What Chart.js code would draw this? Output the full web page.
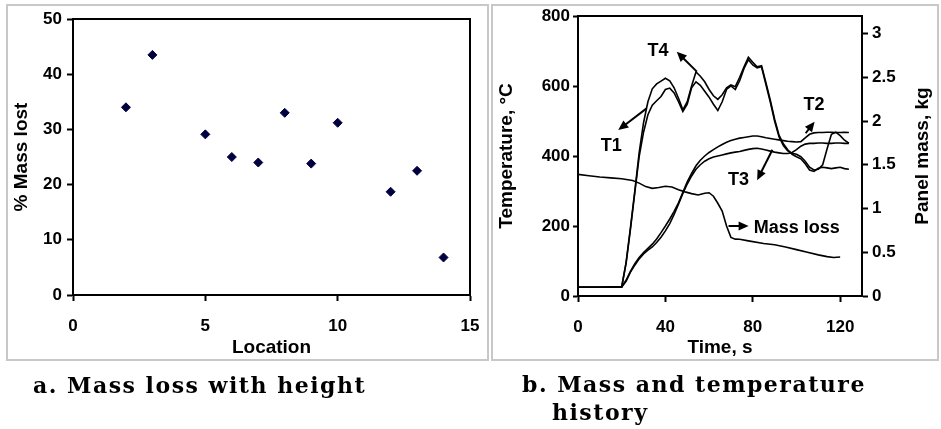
<!doctype html>
<html>
<head>
<meta charset="utf-8">
<title>Mass loss and temperature history</title>
<script src="https://cdn.jsdelivr.net/npm/chart.js@4/dist/chart.umd.min.js"></script>
<style>
	body { margin: 0; background: #fff; width: 941px; height: 429px; position: relative; overflow: hidden; }
	.box { position: absolute; top: 4px; height: 357px; border: 2px solid #c8c8c8; box-sizing: border-box; background: #fff; }
	#boxA { left: 6px; width: 483px; }
	#boxB { left: 491px; width: 448px; }
	#captions { position: absolute; left: 0; top: 362px; }
	canvas { display: block; }
</style>
</head>
<body>
	<div class="box" id="boxA"><canvas id="chartA" width="479" height="353"></canvas></div>
	<div class="box" id="boxB"><canvas id="chartB" width="444" height="353"></canvas></div>
	<canvas id="captions" width="941" height="67"></canvas>
<script>
	// panel a: percent of mass lost at each location
	var locations = [2, 3, 5, 6, 7, 8, 9, 10, 12, 13, 14];
	var massLostPct = [34.0, 43.5, 29.1, 25.0, 24.0, 33.0, 23.8, 31.2, 18.7, 22.5, 6.8];

	// panel b: thermocouple temperatures (C) against time (s)
	var timeS = [0, 10, 20, 22, 24, 26, 28, 30, 32, 34, 36, 38, 40, 42, 44, 46, 48, 50, 52, 54, 56, 58, 60,
		62, 64, 66, 68, 70, 72, 74, 76, 78, 80, 82, 84, 86, 88, 90, 92, 94, 96, 98, 100,
		102, 104, 106, 108, 110, 112, 114, 116, 118, 120, 122, 124];
	var tempT1 = [25, 25, 26, 95, 195, 300, 410, 495, 555, 592, 606, 614, 622, 615, 595, 565, 532, 555, 600, 640, 628, 612, 590,
		572, 562, 575, 595, 603, 598, 625, 655, 682, 668, 655, 658, 610, 560, 505, 460, 435, 418, 405, 398,
		392, 378, 360, 356, 365, 368, 366, 364, 366, 368, 364, 362];
	var tempT2 = [25, 25, 26, 45, 70, 92, 110, 124, 136, 148, 163, 181, 200, 220, 242, 266, 296, 326, 350, 372, 388, 400, 410,
		418, 426, 433, 439, 444, 448, 451, 453, 455, 457, 457, 455, 452, 450, 448, 446, 444, 442, 441, 440,
		441, 452, 462, 466, 467, 467, 468, 468, 467, 467, 468, 467];
	var tempT3 = [25, 25, 26, 42, 68, 88, 106, 120, 131, 140, 153, 168, 186, 207, 233, 262, 293, 320, 343, 362, 375, 385, 392,
		397, 400, 403, 406, 409, 411, 413, 416, 419, 421, 422, 420, 417, 414, 411, 409, 407, 407, 410, 418,
		428, 434, 436, 436, 437, 437, 436, 436, 437, 437, 436, 436];
	var tempT4 = [25, 25, 26, 93, 190, 295, 398, 468, 518, 545, 558, 570, 590, 594, 580, 555, 527, 548, 595, 612, 602, 585, 568,
		548, 530, 555, 590, 600, 590, 615, 650, 675, 660, 652, 655, 605, 555, 500, 455, 430, 415, 408, 405,
		398, 385, 368, 360, 362, 375, 420, 462, 468, 458, 445, 437];

	// panel b: panel mass (kg) against time (s)
	var massTime = [0, 5, 10, 15, 20, 25, 28, 31, 34, 37, 40, 43, 46, 49, 52, 55, 58, 60, 62, 64, 66, 68, 70,
		72, 74, 78, 85, 90, 95, 100, 105, 110, 114, 117, 120];
	var panelMass = [1.39, 1.375, 1.36, 1.35, 1.34, 1.32, 1.29, 1.25, 1.23, 1.24, 1.255, 1.245, 1.215, 1.19, 1.17, 1.155, 1.175, 1.18, 1.14, 1.06, 0.97, 0.80, 0.67,
		0.65, 0.648, 0.63, 0.60, 0.585, 0.56, 0.53, 0.50, 0.47, 0.45, 0.44, 0.445];
	var massTicks = [0, 0.5, 1, 1.5, 2, 2.5, 3];

	// labels with arrows on panel b, in (time, temperature) units
	var notes = [
		{ text: 'T4', x: 36.6, y: 701, from: [54.4, 641], to: [45.2, 698] },
		{ text: 'T1', x: 15.2, y: 429, from: [31.4, 536], to: [18.4, 474] },
		{ text: 'T2', x: 108, y: 547, from: [104.2, 465], to: [108.3, 498] },
		{ text: 'T3', x: 73.5, y: 331, from: [89, 418], to: [82, 331] },
		{ text: 'Mass loss', x: 80.4, y: 193, from: [68.9, 200], to: [78.1, 200], left: true }
	];

	var axisFont = { family: 'Liberation Sans', size: 17, weight: 'bold' };
	var titleFont = { family: 'Liberation Sans', size: 19, weight: 'bold' };

	Chart.defaults.color = '#000';
	Chart.defaults.font.family = 'Liberation Sans';

	function tickGrid(len) {
		return { display: true, drawOnChartArea: false, drawTicks: true, tickLength: len, tickColor: '#000', tickWidth: 2 };
	}
	function blackBorder() {
		return { display: true, color: '#000', width: 2 };
	}
	// fix the size of an axis and drop the label overhang padding so the plot area lands where wanted
	function fixSize(prop, size) {
		return function(s) {
			s[prop] = size;
			s.paddingLeft = 0; s.paddingRight = 0; s.paddingTop = 0; s.paddingBottom = 0;
		};
	}

	// black frame round the plot area, one per chart
	function makeBox() {
		return {
			id: 'plotBox',
			afterDraw: function(chart) {
				var a = chart.chartArea, ctx = chart.ctx;
				ctx.save();
				ctx.strokeStyle = '#000';
				ctx.lineWidth = 2;
				ctx.strokeRect(a.left, a.top, a.right - a.left, a.bottom - a.top);
				ctx.restore();
			}
		};
	}

	function drawArrow(ctx, x0, y0, x1, y1) {
		var ang = Math.atan2(y1 - y0, x1 - x0);
		var c = Math.cos(ang), s = Math.sin(ang);
		ctx.beginPath();
		ctx.moveTo(x0, y0);
		ctx.lineTo(x1 - 6 * c, y1 - 6 * s);
		ctx.stroke();
		ctx.beginPath();
		ctx.moveTo(x1, y1);
		ctx.lineTo(x1 - 10 * c + 4.5 * s, y1 - 10 * s - 4.5 * c);
		ctx.lineTo(x1 - 10 * c - 4.5 * s, y1 - 10 * s + 4.5 * c);
		ctx.closePath();
		ctx.fill();
	}

	var notesPlugin = {
		id: 'notes',
		afterDraw: function(chart) {
			var ctx = chart.ctx, xs = chart.scales.x, ys = chart.scales.y, y1 = chart.scales.y1;
			ctx.save();
			ctx.strokeStyle = '#000';
			ctx.fillStyle = '#000';
			ctx.lineWidth = 2;
			notes.forEach(function(n) {
				drawArrow(ctx, xs.getPixelForValue(n.from[0]), ys.getPixelForValue(n.from[1]),
					xs.getPixelForValue(n.to[0]), ys.getPixelForValue(n.to[1]));
				ctx.font = 'bold 18px "Liberation Sans"';
				ctx.textBaseline = 'middle';
				ctx.textAlign = n.left ? 'left' : 'center';
				ctx.fillText(n.text, xs.getPixelForValue(n.x), ys.getPixelForValue(n.y));
			});
			// right axis title reads bottom to top, like the left one
			ctx.translate(y1.right - 14, (chart.chartArea.top + chart.chartArea.bottom) / 2);
			ctx.rotate(-Math.PI / 2);
			ctx.font = 'bold 19px "Liberation Sans"';
			ctx.textAlign = 'center';
			ctx.fillText('Panel mass, kg', 0, 0);
			ctx.restore();
		}
	};

	new Chart(document.getElementById('chartA').getContext('2d'), {
		type: 'scatter',
		data: {
			datasets: [{
				data: locations.map(function(x, i) { return { x: x, y: massLostPct[i] }; }),
				pointStyle: 'rectRot',
				pointRadius: 4.5,
				backgroundColor: '#000040',
				borderColor: '#000040'
			}]
		},
		options: {
			responsive: false,
			animation: false,
			layout: { padding: { left: 0, right: 17, top: 13, bottom: 0 } },
			plugins: { legend: { display: false }, tooltip: { enabled: false } },
			scales: {
				x: {
					type: 'linear', min: 0, max: 15,
					ticks: { stepSize: 5, font: axisFont, padding: 15, maxRotation: 0 },
					grid: tickGrid(6), border: blackBorder(),
					title: { display: true, text: 'Location', font: titleFont, padding: { top: 0, bottom: 0 } },
					afterFit: fixSize('height', 64)
				},
				y: {
					min: 0, max: 50,
					ticks: { stepSize: 10, font: axisFont, padding: 5 },
					grid: tickGrid(6), border: blackBorder(),
					title: { display: true, text: '% Mass lost', font: titleFont, padding: { top: 2, bottom: 0 } },
					afterFit: fixSize('width', 65)
				}
			}
		},
		plugins: [makeBox()]
	});

	function series(xs, ys) {
		return xs.map(function(x, i) { return { x: x, y: ys[i] }; });
	}
	function lineSet(data, axis) {
		return { data: data, yAxisID: axis, borderColor: '#000', borderWidth: 1.6, pointRadius: 0, tension: 0, fill: false };
	}

	new Chart(document.getElementById('chartB').getContext('2d'), {
		type: 'line',
		data: {
			datasets: [
				lineSet(series(timeS, tempT1), 'y'),
				lineSet(series(timeS, tempT2), 'y'),
				lineSet(series(timeS, tempT3), 'y'),
				lineSet(series(timeS, tempT4), 'y'),
				lineSet(series(massTime, panelMass), 'y1')
			]
		},
		options: {
			responsive: false,
			animation: false,
			layout: { padding: { left: 0, right: 0, top: 10, bottom: 0 } },
			plugins: { legend: { display: false }, tooltip: { enabled: false } },
			scales: {
				x: {
					type: 'linear', min: 0, max: 130,
					ticks: { font: axisFont, padding: 15, maxRotation: 0 },
					afterBuildTicks: function(s) { s.ticks = [0, 40, 80, 120].map(function(v) { return { value: v }; }); },
					grid: tickGrid(6), border: blackBorder(),
					title: { display: true, text: 'Time, s', font: titleFont, padding: { top: 0, bottom: 0 } },
					afterFit: fixSize('height', 63)
				},
				y: {
					position: 'left', min: 0, max: 800,
					ticks: { stepSize: 200, font: axisFont, padding: 3 },
					grid: tickGrid(5), border: blackBorder(),
					title: { display: true, text: 'Temperature, °C', font: titleFont, padding: { top: 2, bottom: 0 } },
					afterFit: fixSize('width', 85)
				},
				y1: {
					position: 'right', min: 0, max: 3.2,
					ticks: { font: axisFont, padding: 4, callback: function(v) { return String(v); } },
					afterBuildTicks: function(s) { s.ticks = massTicks.map(function(v) { return { value: v }; }); },
					grid: tickGrid(6), border: blackBorder(),
					afterFit: fixSize('width', 75)
				}
			}
		},
		plugins: [makeBox(), notesPlugin]
	});

	// figure captions under the two panels
	var cap = document.getElementById('captions').getContext('2d');
	cap.fillStyle = '#000';
	cap.font = 'bold 22px "DejaVu Serif"';
	cap.textBaseline = 'alphabetic';
	if ('letterSpacing' in cap) cap.letterSpacing = '1.5px';
	cap.fillText('a. Mass loss with height', 33, 31);
	cap.fillText('b. Mass and temperature', 522, 30);
	cap.fillText('history', 552, 58);
</script>
</body>
</html>
